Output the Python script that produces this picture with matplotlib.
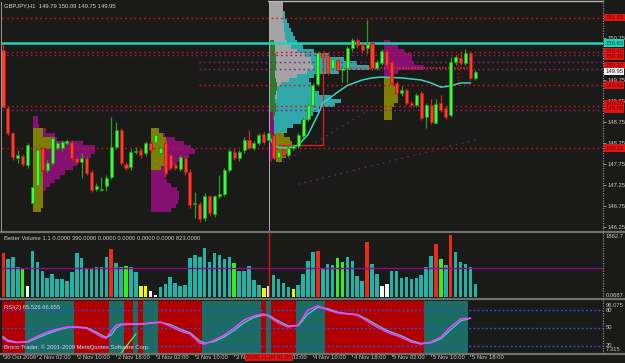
import matplotlib
matplotlib.use("Agg")
import matplotlib.pyplot as plt
import matplotlib.transforms as mtrans
from matplotlib.lines import Line2D

plt.rcParams['font.family'] = ['Liberation Sans Narrow', 'Liberation Sans', 'DejaVu Sans']

# ---------------------------------------------------------------- data
symbol_caption = "GBPJPY,H1  149.79 150.09 149.75 149.95"
volume_caption = "Better Volume 1.1 0.0000 390.0000 0.0000 0.0000 0.0000 0.0000 823.0000"
rsi_caption = "RSI(2) 65.526 66.655"
copyright_caption = "Broco Trader, \u00a9 2001-2009 MetaQuotes Software Corp."

opens = [150.46,149.08,148.49,147.89,147.94,147.73,146.82,147.25,148.13,147.61,
         147.77,148.13,148.13,148.25,148.27,147.89,147.80,147.89,147.56,147.15,
         147.13,147.23,147.44,148.15,148.56,147.75,147.68,148.04,148.08,148.01,
         148.25,148.27,148.01,148.25,147.96,147.73,147.63,147.89,147.56,146.79,
         146.80,146.46,146.99,146.56,146.99,147.04,147.61,148.04,147.89,148.08,
         148.32,148.13,148.25,148.46,148.32,148.44,147.92,148.08,147.96,148.13,
         148.18,148.42,148.82,149.15,149.65,150.39,150.34,150.04,150.23,149.99,
         150.04,150.51,150.70,150.58,150.51,150.63,150.04,150.15,150.44,150.18,
         149.68,149.44,149.51,149.20,149.15,149.44,148.87,149.15,148.73,149.20,
         149.08,148.92,150.18,150.27,150.15,150.39,149.80]
closes = [149.11,148.49,147.92,147.96,147.75,148.20,147.20,148.08,147.61,147.77,
          148.37,148.25,148.27,148.30,147.89,147.80,147.89,147.54,147.13,147.23,
          147.15,147.42,148.15,148.56,147.77,147.65,148.04,148.06,147.96,148.25,
          148.08,148.44,148.13,147.54,147.65,147.65,147.92,147.56,146.77,146.81,
          146.44,146.99,146.58,146.99,147.04,147.61,148.06,147.89,148.04,148.32,
          148.13,148.25,148.44,148.27,148.49,147.89,148.04,147.96,148.13,148.18,
          148.44,148.82,149.15,149.63,150.39,150.30,149.92,150.25,149.99,150.04,
          150.51,150.70,150.58,150.46,150.61,150.04,150.18,150.44,150.11,149.68,
          149.44,149.51,149.20,149.15,149.39,148.85,149.15,148.75,149.18,149.04,
          148.87,150.18,150.30,150.15,150.39,149.80,149.94]
highs = [150.60,149.12,148.52,148.08,147.98,148.25,147.25,148.12,148.18,147.85,
         148.42,148.30,148.32,148.35,148.32,147.93,148.01,147.93,147.60,147.30,
         147.44,147.48,148.87,148.75,148.60,147.80,148.10,148.15,148.12,148.30,
         148.30,148.48,148.18,148.30,148.00,147.78,147.97,147.95,147.62,147.08,
         146.85,147.05,147.02,147.02,147.50,147.65,148.10,148.10,148.08,148.40,
         148.56,148.30,148.50,148.52,148.55,148.50,148.08,148.12,148.18,148.22,
         148.48,148.86,149.20,149.68,150.45,150.45,150.40,150.30,150.28,150.10,
         150.55,150.75,150.75,150.62,151.18,150.68,150.22,150.50,150.50,150.22,
         149.72,149.60,149.56,149.26,149.45,149.48,149.20,149.30,149.30,149.40,
         149.12,150.30,150.35,150.45,150.50,150.45,150.00]
lows = [149.08,148.45,147.85,147.77,147.70,147.65,146.75,147.20,147.55,147.55,
        147.72,148.08,148.05,148.20,147.85,147.75,147.42,147.50,147.08,147.10,
        147.10,147.10,147.40,148.10,147.72,147.60,147.60,148.00,147.90,147.95,
        148.02,148.20,147.95,147.45,147.60,147.60,147.58,147.50,146.70,146.46,
        146.38,146.40,146.52,146.50,146.95,147.00,147.55,147.85,147.82,148.02,
        148.10,148.08,148.20,148.22,148.28,147.85,147.80,147.90,147.92,148.08,
        148.12,148.38,148.78,149.10,149.60,150.25,149.88,150.00,149.95,149.70,
        149.68,150.45,150.52,150.40,150.40,150.00,149.98,150.10,150.05,149.62,
        149.38,149.38,149.15,149.10,149.10,148.80,148.60,148.70,148.70,148.98,
        148.82,148.88,150.10,150.10,150.10,149.75,149.75]

volumes = [1320,1140,1200,900,840,330,1380,1050,780,570,
           690,540,540,480,750,1320,1170,870,870,900,
           900,1200,1440,1020,900,930,900,750,330,330,
           180,60,300,390,600,420,330,360,1170,1260,
           1200,1470,1050,1320,1260,1140,1200,1020,780,780,
           930,510,360,270,330,660,540,420,300,240,
           360,690,1080,1350,1380,870,990,960,1170,1050,
           1200,1080,630,480,1650,990,690,330,390,780,
           780,570,600,540,570,660,900,1230,1590,1140,
           960,1863,1350,1050,990,900,390]
# R climax, T normal, G green, Y yellow, W white
volume_kind = ("RTTTGW" "TTTTTTTTTTTTTTTT" "R" "TT" "G" "TT" "YY" "WW"
               "TTTTTTTTTTTTTTT" "G" "TTTTT" "Y" "W" "TTTT" "Y" "TTTT" "R"
               "TTT" "GG" "TTTT" "R" "TT" "WW" "TTTTTTTTT" "R" "G" "T" "R" "TTTTT")
volume_avg_level = 860
volume_max_label = "1862.7"
volume_min_label = "0.0687"

rsi_bars = [0,1,3,5,7,9,11,13,15,17,19,20,21,22,23,24,28,32,34,36,38,40,41,43,45,
            47,49,51,53,54,56,58,60,62,64,66,68,70,72,74,76,78,81,83,85,87,89,91,93,95]
rsi_vals = [32.8,27,25,27,36,43,48,51.7,51.5,49.5,40,35,32.5,45,55,56.8,56.8,60.3,53,45,
            39.7,24.3,22.5,29.4,38,50,63.7,70.6,74,70,58.6,51.7,55,80.9,87.7,80.9,75.7,74,
            72.3,62,51.7,43.1,34,26,22.5,26,34.5,52,65.4,66.7]
sig_vals = [35,29,25.5,26,33,40,46,50.5,51.8,50.5,43,38,34,38,50,55.5,56.8,59.5,56,48,
            42,28,24,27,35,46,59,68,72.5,71.5,62,53.5,54,74,85.5,83,77,74.5,
            73,65,55,46,36.5,28.5,23.5,25,31.5,47,62,66.6]
rsi_state = ("RRRRR" "TTTTTTTTTT" "RRRRRRR" "TTT" "RR" "T" "R" "TTT" "RRRRRRRRR"
             "TTTTTTTTTTTT" "R" "T" "RRRRR" "TTTTTT" "RRRRRRRRRRRRRRRRRRRR" "TTTTTTTTT" "--")
rsi_levels = [80, 50, 20]
rsi_top, rsi_bottom = 96.075, 7.315
rsi_trend_bars = [24, 27]
rsi_trend_vals = [7.3, 39.7]

tick_bars = [0, 7, 15, 23, 31, 39, 47, 55, 63, 71, 79, 87, 95]
tick_labels = ["30 Oct 2009", "2 Nov 02:00", "2 Nov 10:00", "2 Nov 18:00", "3 Nov 02:00",
               "3 Nov 10:00", "3 Nov 18:00", "4 Nov 02:00", "4 Nov 10:00", "4 Nov 18:00",
               "5 Nov 02:00", "5 Nov 10:00", "5 Nov 18:00"]
marker_bar = 54
marker_label = "2009.11.04 01:00"

price_ticks = [150.75, 149.75, 149.25, 148.75, 148.25, 147.75, 147.25, 146.75, 146.25]
cyan_level = 150.63
level_prices = [151.23, 150.42, 150.34, 150.18, 150.02, 149.63, 149.13, 149.04, 148.13]
level_kind = ["red", "red", "purple", "purple", "purple", "red", "red", "purple", "red"]
level_start = [0, 0, 0, 40, 40, 40, 0, 0, 0]
box_prices = [151.23, 150.42, 150.30, 150.10, 149.95, 149.63, 149.20, 149.06, 148.13]
box_texts = ["151.23", "150.42", "150.30", "150.10", "149.95", "149.63", "149.20", "149.06", "148.13"]
box_kind = ["red", "red", "red", "red", "white", "red", "red", "red", "red"]

ma_bars = [54, 55, 56, 58, 60, 62, 64, 65, 68, 70, 73, 75, 77, 81, 85, 87, 89, 91, 93, 95]
ma_vals = [148.45, 148.20, 148.14, 148.13, 148.20, 148.45, 148.92, 149.20, 149.46, 149.62,
           149.75, 149.80, 149.82, 149.80, 149.75, 149.68, 149.58, 149.61, 149.68, 149.68]
step_bars = [56, 65, 65]
step_vals = [148.20, 148.20, 150.39]
poc_price, poc_from, poc_to = 150.04, 68, 95
vdot1_bar, vdot1_lo, vdot1_hi = 74, 150.39, 151.23
vdot2_bar, vdot2_lo, vdot2_hi = 92.5, 149.63, 150.42
diag1_bars, diag1_vals = [57, 74], [147.80, 149.00]
diag2_bars, diag2_vals = [60, 96], [147.27, 148.32]

# volume profiles (counts per 0.10 price level)
prof1_anchor = 6
prof1_levels = [148.85,148.75,148.65,148.55,148.45,148.35,148.25,148.15,148.05,147.95,147.85,
                147.75,147.65,147.55,147.45,147.35,147.25,147.15,147.05,146.95,146.85,146.75]
prof1_counts = [5,5,6,13,22,24,50,62,62,58,48,44,40,32,27,22,17,13,9,4,3,2]
olive1_levels = [148.55,148.45,148.35,148.25,148.15,148.05,147.95,147.85,147.75,147.65,
                 147.55,147.45,147.35,147.25,147.15,147.05,146.95,146.85,146.75,146.65]
olive1_counts = [10,10,22,22,22,10,10,10,10,10,10,10,10,10,10,10,10,10,10,8]

prof2_anchor = 30
prof2_levels = [148.55,148.45,148.35,148.25,148.15,148.05,147.95,147.85,147.75,147.65,
                147.55,147.45,147.35,147.25,147.15,147.05,146.95,146.85,146.75,146.65]
prof2_counts = [8,14,24,33,40,44,38,30,26,20,17,14,16,20,26,28,28,27,25,20]
olive2_levels = [148.55,148.45,148.35,148.25,148.15,148.05,147.95,147.85,147.75,147.65]
olive2_counts = [8,12,15,16,16,16,16,15,14,10]

prof3_anchor = 54
prof3_levels = [151.55,151.45,151.35,151.25,151.15,151.05,150.95,150.85,150.75,150.65,
                150.55,150.45,150.35,150.25,150.15,150.05,149.95,149.85,149.75,149.65,
                149.55,149.45,149.35,149.25,149.15,149.05,148.95,148.85,148.75,148.65,
                148.55,148.45,148.35,148.25,148.15,148.05,147.95]
cyan3_counts = [12,14,16,16,18,20,22,24,26,28,34,45,60,75,88,100,70,45,40,42,
                45,50,62,72,66,50,44,40,32,24,18,14,12,10,8,6,5]
gray3_counts = [14,14,14,14,14,15,15,16,16,18,22,28,36,42,42,44,38,28,20,12,
                8,8,8,6,6,6,4,4,0,0,0,0,0,0,0,0,0]
green3_levels = [150.65,150.55,150.45,150.35,150.25,150.15,150.05,149.95,149.85,149.75,
                 149.65,149.55,149.45,149.35,149.25,149.15,149.05,148.95,148.85]
green3_counts = [5,6,6,7,7,7,7,6,6,7,8,8,7,6,6,7,7,6,5]
purple3_levels = [148.95,148.85,148.75,148.65,148.55,148.45,148.35,148.25,148.15,148.05,147.95,147.85]
purple3_counts = [4,4,5,5,5,5,6,6,6,5,4,3]
olive3_anchor = 55.5
olive3_levels = [148.45,148.35,148.25,148.15,148.05,147.95,147.85]
olive3_counts = [8,14,16,16,14,10,6]

prof4_anchor = 77.5
prof4_levels = [150.65,150.55,150.45,150.35,150.25,150.15,150.05,149.95,149.85]
prof4_counts = [6,14,20,28,28,30,40,14,8]
olive4_levels = [149.75,149.65,149.55,149.45,149.35,149.25,149.15,149.05,148.95,148.85]
olive4_counts = [10,10,14,14,14,14,10,8,8,8]

# ---------------------------------------------------------------- style
BG = '#1a1a18'
W, H = 625, 363
BAR_PX = 4.92
PROFILE_UNIT = 1 / BAR_PX
FS = 4.2
FS_T = 4.2
RED = '#d81010'
PURPLE = '#8c1a8c'
C_PURPLE = '#861070'
C_OLIVE = '#7f7f06'
C_CYAN = '#30a8aa'
C_GRAY = '#a4a4a4'
C_GREEN = '#2e7a2e'

fig = plt.figure(figsize=(W / 100, H / 100), dpi=100, facecolor=BG)


def fx(px):
    return px / W


def fy(py):
    return 1 - py / H


XL = (-0.2, 600 / BAR_PX)
ax_p = fig.add_axes([fx(2), fy(231), 601 / W, 229 / H], facecolor=BG)
ax_v = fig.add_axes([fx(2), fy(297), 601 / W, 64 / H], facecolor=BG)
ax_r = fig.add_axes([fx(2), fy(353), 601 / W, 52 / H], facecolor=BG)
for ax in (ax_p, ax_v, ax_r):
    ax.set_xlim(*XL)
    ax.set_xticks([])
    ax.set_yticks([])
    for s in ax.spines.values():
        s.set_visible(False)

ax_p.set_ylim(146.25 - 4 / 42, 146.25 + 225 / 42)
ax_v.set_ylim(0, 64 * 30.08)
ax_r.set_ylim(rsi_bottom, rsi_top)

n = len(opens)
bars = list(range(n))


# ---------------------------------------------------------------- price panel
def profile(anchor, levels, counts, color, z):
    ax_p.barh(levels, [c * PROFILE_UNIT for c in counts], left=anchor, height=0.1,
              color=color, linewidth=0, zorder=z)


profile(prof1_anchor, prof1_levels, prof1_counts, C_PURPLE, 1)
profile(prof1_anchor, olive1_levels, olive1_counts, C_OLIVE, 1.1)
profile(prof2_anchor, prof2_levels, prof2_counts, C_PURPLE, 1)
profile(prof2_anchor, olive2_levels, olive2_counts, C_OLIVE, 1.1)
profile(prof3_anchor, prof3_levels, cyan3_counts, C_CYAN, 1)
profile(prof3_anchor, prof3_levels, gray3_counts, C_GRAY, 1.1)
profile(prof3_anchor, green3_levels, green3_counts, C_GREEN, 1.2)
profile(prof3_anchor, purple3_levels, purple3_counts, C_PURPLE, 1.2)
profile(olive3_anchor, olive3_levels, olive3_counts, C_OLIVE, 1.2)
profile(prof4_anchor, prof4_levels, prof4_counts, C_PURPLE, 1)
profile(prof4_anchor, olive4_levels, olive4_counts, C_OLIVE, 1.1)

for p, k, st in zip(level_prices, level_kind, level_start):
    ax_p.hlines(p, st - 0.2, XL[1], colors=RED if k == 'red' else PURPLE,
                linestyles=(0, (1.2, 2.2)), linewidth=1.0, zorder=2)
ax_p.axhline(cyan_level, color='#22d2b4', linewidth=1.8, zorder=2.2)

ax_p.plot(diag1_bars, diag1_vals, color=PURPLE, linestyle=(0, (1, 4)), linewidth=0.9, zorder=2)
ax_p.plot(diag2_bars, diag2_vals, color=PURPLE, linestyle=(0, (1, 4)), linewidth=0.9, zorder=2)
ax_p.plot(step_bars, step_vals, color='#e02020', linewidth=0.9, zorder=2.4)
ax_p.hlines(poc_price, poc_from, poc_to, colors='#ff2a2a', linestyles=(0, (1, 1)), linewidth=1.1, zorder=2.4)
ax_p.vlines([vdot1_bar], vdot1_lo, vdot1_hi, colors=RED, linestyles=(0, (1, 2)), linewidth=0.9, zorder=2)
ax_p.vlines([vdot2_bar], vdot2_lo, vdot2_hi, colors=RED, linestyles=(0, (1, 2)), linewidth=0.9, zorder=2)
ax_p.plot(ma_bars, ma_vals, color='#3ad2c2', linewidth=1.1, zorder=2.6)
ax_p.axvline(marker_bar, color='#b0b0b0', linewidth=0.7, zorder=2.1)

up = [c >= o for o, c in zip(opens, closes)]
ax_p.vlines(bars, lows, highs, colors=['#2c9a2c' if u else '#d8281a' for u in up],
            linewidth=0.9, zorder=3)
ax_p.bar(bars, [max(abs(c - o), 0.012) for o, c in zip(opens, closes)],
         bottom=[min(o, c) for o, c in zip(opens, closes)], width=0.62,
         color=['#3cff3c' if u else '#ff3b2b' for u in up],
         edgecolor=['#1f9a1f' if u else '#b01c10' for u in up], linewidth=0.5, zorder=4)

ax_p.set_yticks(price_ticks)
ax_p.set_yticklabels([f"{t:.2f}" for t in price_ticks])
ax_p.yaxis.tick_right()
ax_p.tick_params(axis='y', length=2, width=0.6, color='#a0a0a0', pad=1.2,
                 labelsize=FS, labelcolor='#c8c8c8')

tr_p = mtrans.blended_transform_factory(ax_p.transAxes, ax_p.transData)
for p, s, k in zip(box_prices, box_texts, box_kind):
    fc, tc = ('#e01414', '#6a0000') if k == 'red' else ('#f4f4f4', '#202020')
    ax_p.text(1.004, p, s, transform=tr_p, fontsize=FS, va='center', ha='left', color=tc,
              bbox=dict(boxstyle='square,pad=0.18', fc=fc, ec='none'), clip_on=False, zorder=10)
ax_p.text(1.004, cyan_level, f"{cyan_level:.2f}", transform=tr_p, fontsize=FS, va='center',
          ha='left', color='#0b4848',
          bbox=dict(boxstyle='square,pad=0.18', fc='#22d2b4', ec='none'), clip_on=False, zorder=11)

fig.text(fx(4), fy(6), symbol_caption, fontsize=FS, color='#d4d4d4', va='center', ha='left')

# ---------------------------------------------------------------- volume panel
vcol = {'T': '#22b3a6', 'R': '#ec2a1c', 'G': '#36ee18', 'Y': '#f6f600', 'W': '#f4f4f4'}
ax_v.bar(bars, volumes, width=0.72, color=[vcol[k] for k in volume_kind], linewidth=0, zorder=2)
ax_v.axhline(volume_avg_level, color='#8e0a8e', linewidth=1.0, zorder=3)
ax_v.axvline(marker_bar, color='#d81010', linewidth=1.0, zorder=4)
tr_v = mtrans.blended_transform_factory(ax_v.transAxes, ax_v.transAxes)
ax_v.text(1.004, 0.94, volume_max_label, transform=tr_v, fontsize=FS, color='#c8c8c8',
          va='center', ha='left', clip_on=False)
ax_v.text(1.004, 0.03, volume_min_label, transform=tr_v, fontsize=FS, color='#c8c8c8',
          va='center', ha='left', clip_on=False)
fig.text(fx(4), fy(239), volume_caption, fontsize=FS, color='#c8c8c8', va='center', ha='left')

# ---------------------------------------------------------------- RSI panel
runs = []
start = 0
for i in range(1, n + 1):
    if i == n or rsi_state[i] != rsi_state[start]:
        runs.append((rsi_state[start], start, i - 1))
        start = i
for k, a, b in runs:
    if k == '-':
        continue
    ax_r.axvspan(a - 0.5, b + 0.5, color='#b20000' if k == 'R' else '#1b6c63', linewidth=0, zorder=1)
for lv in rsi_levels:
    ax_r.axhline(lv, color='#2f4fd8', linestyle=(0, (1.5, 1.5)), linewidth=1.0, zorder=2)
ax_r.plot(rsi_bars, sig_vals, color='#3ec8d4', linewidth=1.0, zorder=3)
ax_r.plot(rsi_bars, rsi_vals, color='#ff3cff', linewidth=1.1, zorder=4)
ax_r.plot(rsi_trend_bars, rsi_trend_vals, color='#30ff70', linewidth=0.9, zorder=4)
tr_r = mtrans.blended_transform_factory(ax_r.transAxes, ax_r.transData)
ax_r.text(1.004, rsi_top - 7.5, f"{rsi_top:.3f}", transform=tr_r, fontsize=FS, color='#c8c8c8',
          va='center', ha='left', clip_on=False)
for lv in rsi_levels:
    ax_r.text(1.004, lv, f"{lv}", transform=tr_r, fontsize=FS, color='#c8c8c8',
              va='center', ha='left', clip_on=False)
ax_r.text(1.004, rsi_bottom + 6.0, f"{rsi_bottom:.3f}", transform=tr_r, fontsize=FS,
          color='#c8c8c8', va='center', ha='left', clip_on=False)
fig.text(fx(4), fy(307), rsi_caption, fontsize=FS, color='#d8d0f0', va='center', ha='left')
fig.text(fx(4), fy(347), copyright_caption, fontsize=FS, color='#d8d8d8', va='center', ha='left')

# ---------------------------------------------------------------- time axis
tr_t = mtrans.blended_transform_factory(ax_r.transData, fig.transFigure)
for b, s in zip(tick_bars, tick_labels):
    fig.text(b + 0.3, fy(357.8), s, transform=tr_t, fontsize=FS_T, color='#c8c8c8',
             va='center', ha='left')
    fig.add_artist(Line2D([b, b], [fy(353.5), fy(355.5)], transform=tr_t, color='#a0a0a0', linewidth=0.6))
fig.text(marker_bar, fy(357.8), marker_label, transform=tr_t, fontsize=FS_T, color='#6a0000',
         va='center', ha='center', zorder=10,
         bbox=dict(boxstyle='square,pad=0.2', fc='#e01414', ec='none'))

# ---------------------------------------------------------------- frame
def hline_px(x0, x1, y, color, lw, ls='-'):
    fig.add_artist(Line2D([fx(x0), fx(x1)], [fy(y), fy(y)], color=color, linewidth=lw, linestyle=ls))


def vline_px(x, y0, y1, color, lw, ls='-'):
    fig.add_artist(Line2D([fx(x), fx(x)], [fy(y0), fy(y1)], color=color, linewidth=lw, linestyle=ls))


hline_px(268, 603, 1.2, '#b8b8b8', 1.0)
for y in (232.2, 298.8, 354.2):
    hline_px(0, 625, y, '#6f6f6f', 1.6)
vline_px(603.3, 0, 354.5, '#8a8a8a', 0.9, (0, (1, 1)))
vline_px(1.2, 2, 231, '#9a9a9a', 0.7)

fig.savefig("out.png", dpi=100, facecolor=BG)
